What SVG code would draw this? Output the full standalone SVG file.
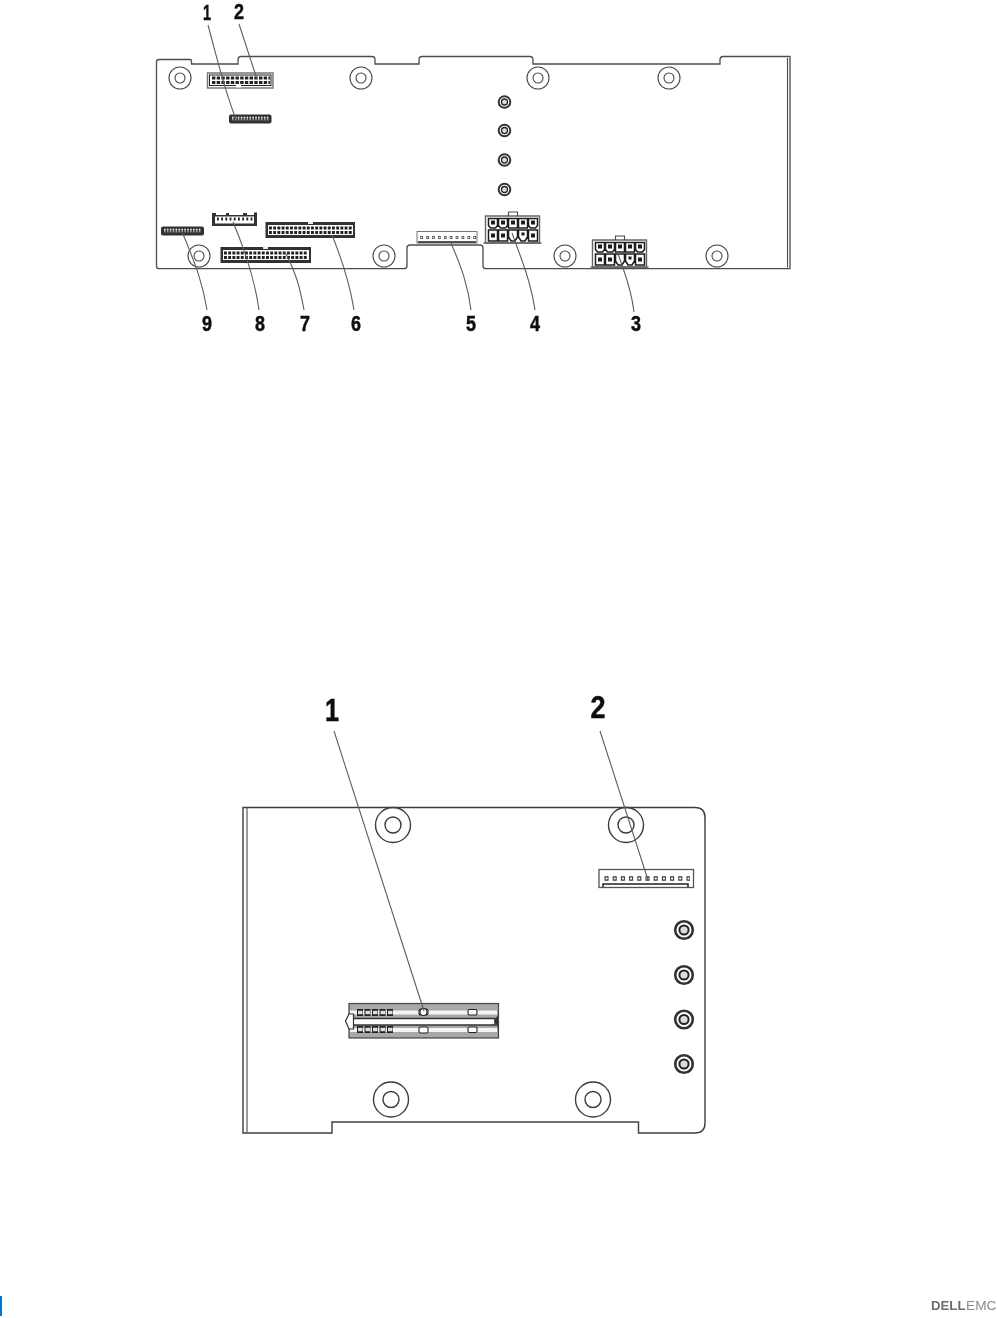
<svg xmlns="http://www.w3.org/2000/svg" xmlns:xlink="http://www.w3.org/1999/xlink" width="997" height="1318" viewBox="0 0 997 1318">
<style>
.board{fill:#fff;stroke:#4d4d4d;stroke-width:1.3}
.o{fill:none;stroke:#4a4a4a;stroke-width:1.1}
.o2{fill:none;stroke:#3c3c3c;stroke-width:1.4}
.lead{fill:none;stroke:#6a5a55;stroke-width:1.1}
.lab{font-family:"Liberation Sans",Arial,sans-serif;font-weight:700;fill:#111;stroke:#111;stroke-width:.5;text-anchor:middle}
.s{font-size:22px}.b{font-size:32px}
.hd{fill:#fff;stroke:#222;stroke-width:1.5}
.hg{fill:#fff;stroke:#777;stroke-width:1.5}
.pin{fill:none;stroke:#222;stroke-width:3;stroke-dasharray:2.9 1.3}
.fine{fill:none;stroke:#222;stroke-width:2.4;stroke-dasharray:1.3 1}
.rule{fill:none;stroke:#222;stroke-width:.9}
.sq{fill:#fff;stroke:#222;stroke-width:1.1}
.cell{fill:#fff;stroke:#1c1c1c;stroke-width:1.5}
.ctr{fill:#1c1c1c}
</style>
<defs>
<filter id="soft" x="0" y="0" width="100%" height="100%"><feGaussianBlur stdDeviation="0.35"/></filter>
<g id="hole"><circle r="11" class="o"/><circle r="5" class="o"/></g>
<g id="bighole"><circle r="17.5" class="o2"/><circle r="8" class="o2"/></g>
<g id="post"><circle r="5.8" fill="#fff" stroke="#333" stroke-width="2"/><circle r="3" fill="#ddd" stroke="#222" stroke-width="1.3"/></g>
<g id="bigpost"><circle r="8.8" fill="#fff" stroke="#333" stroke-width="2.6"/><circle r="4.6" fill="#ddd" stroke="#222" stroke-width="2"/></g>
<g id="power">
<path class="hg" d="M0 0H54V27H0Z" style="stroke:#666;stroke-width:1.4"/>
<path class="o" d="M23 0V-4H32V0"/>
<path class="o" d="M-2 27H56" style="stroke:#666;stroke-width:1.6"/>
<path class="cell" d="M3 2.500h9v7l-2 2.500h-5l-2-2.500zM13 2.500h9v7l-2 2.500h-5l-2-2.500zM23 2.500h9v9.500h-9zM33 2.500h9v9.500h-9zM43 2.500h9v7l-2 2.500h-5l-2-2.500z"/>
<path class="cell" d="M3 14h9v11h-9zM13 14h9v11h-9zM23 14h9v7l-2.500 4h-4l-2.500-4zM33 14h9v7l-2.500 4h-4l-2.500-4zM43 14h9v11h-9z"/>
<path class="ctr" d="M5.500 4.500h4v4h-4zM15.500 4.500h4v4h-4zM25.500 4.500h4v4h-4zM35.500 4.500h4v4h-4zM45.500 4.500h4v4h-4zM5.500 17.500h4v4h-4zM15.500 17.500h4v4h-4zM36 16.500h3v3h-3zM45.500 17.500h4v4h-4z"/>
</g>
</defs>
<rect width="997" height="1318" fill="#fff"/>
<g filter="url(#soft)">
<g id="board-top">
<path class="board" d="M159 59.500H190Q191.500 59.500 191.500 61V64H238V60Q238 56.500 241 56.500H372Q375 56.500 375 60V64H419V60Q419 56.500 422 56.500H530Q533 56.500 533 60V64H720V60Q720 56.500 723 56.500H790V268.700H486Q483 268.700 483 265.700V248Q483 245 480 245H410Q407 245 407 248V265.700Q407 268.700 404 268.700H159Q156.500 268.700 156.500 266V62Q156.500 59.500 159 59.500Z"/>
<path class="o" d="M787.500 58V267.500"/>
<use xlink:href="#hole" x="180" y="78"/><use xlink:href="#hole" x="361" y="78"/><use xlink:href="#hole" x="538" y="78"/><use xlink:href="#hole" x="669" y="78"/>
<use xlink:href="#hole" x="199" y="256"/><use xlink:href="#hole" x="384" y="256"/><use xlink:href="#hole" x="565" y="256"/><use xlink:href="#hole" x="717" y="256"/>
<use xlink:href="#post" x="504.500" y="102"/><use xlink:href="#post" x="504.500" y="130.500"/><use xlink:href="#post" x="504.500" y="160"/><use xlink:href="#post" x="504.500" y="189.500"/>
</g>

<g id="conn-top-2">
<rect class="hg" x="207.500" y="73" width="65.500" height="15"/><rect class="hd" x="209.500" y="75" width="61.500" height="10.500" style="stroke-width:1"/>
<path class="pin" d="M212 78H270M212 82.500H270" style="stroke-dasharray:3.400 1.300"/>
<rect x="236" y="84" width="5" height="3.500" fill="#fff"/>
</g>
<g id="conn-top-1">
<rect x="229" y="114.500" width="42.500" height="9" rx="2" fill="#333"/>
<path class="fine" d="M232 118.500H269" style="stroke:#eee;stroke-width:3.500;stroke-dasharray:1.600 1.300"/><path class="rule" d="M231 119H270" style="stroke:#333"/>
</g>
<g id="conn-top-9">
<rect x="161" y="226.500" width="43" height="9" rx="2" fill="#333"/>
<path class="fine" d="M164 230.500H201" style="stroke:#eee;stroke-width:3.500;stroke-dasharray:1.600 1.300"/><path class="rule" d="M163 231H202" style="stroke:#333"/>
</g>
<g id="conn-top-8">
<path d="M212 213H216V215H226V213H229V215H243V213H247V215H254V212.500H257V226H212Z" fill="#333"/>
<rect x="215" y="216.500" width="39" height="7" fill="#fff"/>
<path class="pin" d="M217 219H253" style="stroke-dasharray:1.800 2.400"/>
</g>
<g id="conn-top-6">
<rect x="265.500" y="222" width="89.500" height="16" fill="#333"/>
<rect x="268" y="225" width="85" height="10" fill="#fff"/>
<path class="pin" d="M269 228H353M269 232.500H353"/>
<rect x="308" y="222" width="5" height="2" fill="#eee"/>
</g>
<g id="conn-top-7">
<rect x="220.500" y="247" width="90.500" height="16" fill="#333"/>
<rect x="223" y="250" width="86" height="10" fill="#fff"/>
<path class="pin" d="M224 253H308M224 257.500H308"/>
<rect x="263" y="247" width="5" height="2" fill="#eee"/>
</g>
<g id="conn-top-5">
<rect class="hg" x="417" y="231.500" width="60" height="11.500" style="stroke-width:1"/>
<path class="rule" d="M418 242H476" style="stroke-width:1.600"/>
<path d="M420.300 237.500H476" fill="none" stroke="#333" stroke-width="3" stroke-dasharray="2.600 3.300"/>
<path d="M420.800 237.500H476" fill="none" stroke="#fff" stroke-width="1.400" stroke-dasharray="1.400 4.500"/>
</g>
<use id="conn-top-4" xlink:href="#power" x="485.500" y="216"/>
<use id="conn-top-3" xlink:href="#power" x="592.500" y="240"/>

<g id="board-bottom">
<path class="o2" fill="#fff" d="M243 807.500H695Q705 807.500 705 817.500V1123Q705 1133 695 1133H638.500V1122H332V1133H243Z"/>
<path class="o" d="M247 808V1132"/>
<use xlink:href="#bighole" x="393" y="825"/><use xlink:href="#bighole" x="626" y="825"/>
<use xlink:href="#bighole" x="391" y="1099.500"/><use xlink:href="#bighole" x="593" y="1099.500"/>
<use xlink:href="#bigpost" x="684" y="930"/><use xlink:href="#bigpost" x="684" y="975"/><use xlink:href="#bigpost" x="684" y="1019.500"/><use xlink:href="#bigpost" x="684" y="1064"/>
</g>
<g id="conn-bottom-2">
<rect class="hg" x="599" y="869.500" width="94.500" height="18" style="stroke:#555;stroke-width:1.300"/>
<path d="M604.500 878.500H690" fill="none" stroke="#333" stroke-width="4.600" stroke-dasharray="4 4.200"/>
<path d="M605.500 878.500H690" fill="none" stroke="#fff" stroke-width="2" stroke-dasharray="2 6.200"/>
<path class="rule" d="M603 887V884H688V887" style="stroke-width:1.500"/>
</g>
<g id="conn-bottom-1">
<rect fill="#a8a8a8" stroke="#444" stroke-width="1.200" x="349" y="1003.500" width="149.500" height="34.500"/>
<rect fill="#fff" stroke="#333" stroke-width="1.500" x="352" y="1018.500" width="143" height="6.500"/>
<path class="rule" d="M350 1012.500H497M350 1030H497" style="stroke:#f4f4f4;stroke-width:4"/>
<path d="M357 1012.500H393M357 1029.500H393" fill="none" stroke="#222" stroke-width="7" stroke-dasharray="6 1.500"/>
<path d="M358 1012.500H393M358 1029.500H393" fill="none" stroke="#ddd" stroke-width="3.500" stroke-dasharray="4.500 3"/>
<rect x="419" y="1009" width="9" height="6" rx="2" class="sq"/>
<circle cx="423.500" cy="1012" r="3.500" class="sq"/>
<rect x="419" y="1027" width="9" height="6" rx="1.500" class="sq"/>
<rect x="468" y="1009.500" width="9" height="5.500" rx="1.500" class="sq"/>
<rect x="468" y="1027" width="9" height="5.500" rx="1.500" class="sq"/>
<path d="M349 1014L345.500 1021L349 1029H353.500V1014Z" fill="#fff" stroke="#333" stroke-width="1.200"/>
<path d="M498 1015L494 1021L498 1028Z" fill="#333"/>
</g>

<g id="connectors">
<path class="lead" d="M208 25C217 58 225 92 236 119"/>
<path class="lead" d="M239 24L257 79"/>
<path class="lead" d="M634 312C632 295 629 285 623 268L618 254"/>
<path class="lead" d="M535 310C532 290 525 268 520 255L512 233"/>
<path class="lead" d="M471 310C468 286 462 268 450 241"/>
<path class="lead" d="M354 310C350 285 343 262 332 235"/>
<path class="lead" d="M304 310C300 288 296 272 285 252"/>
<path class="lead" d="M259 310C255 281 247 255 233 222"/>
<path class="lead" d="M207 310C203 285 197 268 183 234"/>
<path class="lead" d="M334 731L424 1011"/>
<path class="lead" d="M600 731L648 880"/>
</g>

<g id="labels">
<text class="lab s" x="207" y="20" textLength="8" lengthAdjust="spacingAndGlyphs">1</text>
<text class="lab s" x="239" y="19" textLength="10" lengthAdjust="spacingAndGlyphs">2</text>
<text class="lab s" x="207" y="331" textLength="10" lengthAdjust="spacingAndGlyphs">9</text>
<text class="lab s" x="260" y="331" textLength="10" lengthAdjust="spacingAndGlyphs">8</text>
<text class="lab s" x="305" y="331" textLength="10" lengthAdjust="spacingAndGlyphs">7</text>
<text class="lab s" x="356" y="331" textLength="10" lengthAdjust="spacingAndGlyphs">6</text>
<text class="lab s" x="471" y="331" textLength="10" lengthAdjust="spacingAndGlyphs">5</text>
<text class="lab s" x="535" y="331" textLength="10" lengthAdjust="spacingAndGlyphs">4</text>
<text class="lab s" x="636" y="331" textLength="10" lengthAdjust="spacingAndGlyphs">3</text>
<text class="lab b" x="332" y="721" textLength="14" lengthAdjust="spacingAndGlyphs">1</text>
<text class="lab b" x="598" y="718" textLength="15" lengthAdjust="spacingAndGlyphs">2</text>
</g>

<g id="footer">
<rect x="0" y="1296" width="2" height="20" fill="#0076ce"/>
<text x="931" y="1310" font-family="'Liberation Sans',Arial,sans-serif" font-size="12.500" font-weight="700" fill="#6e6e6e" textLength="34.500" lengthAdjust="spacingAndGlyphs">DELL</text>
<text x="966" y="1310" font-family="'Liberation Sans',Arial,sans-serif" font-size="12.500" fill="#8c8c8c" textLength="30.500" lengthAdjust="spacingAndGlyphs">EMC</text>
</g>
</g>
</svg>
